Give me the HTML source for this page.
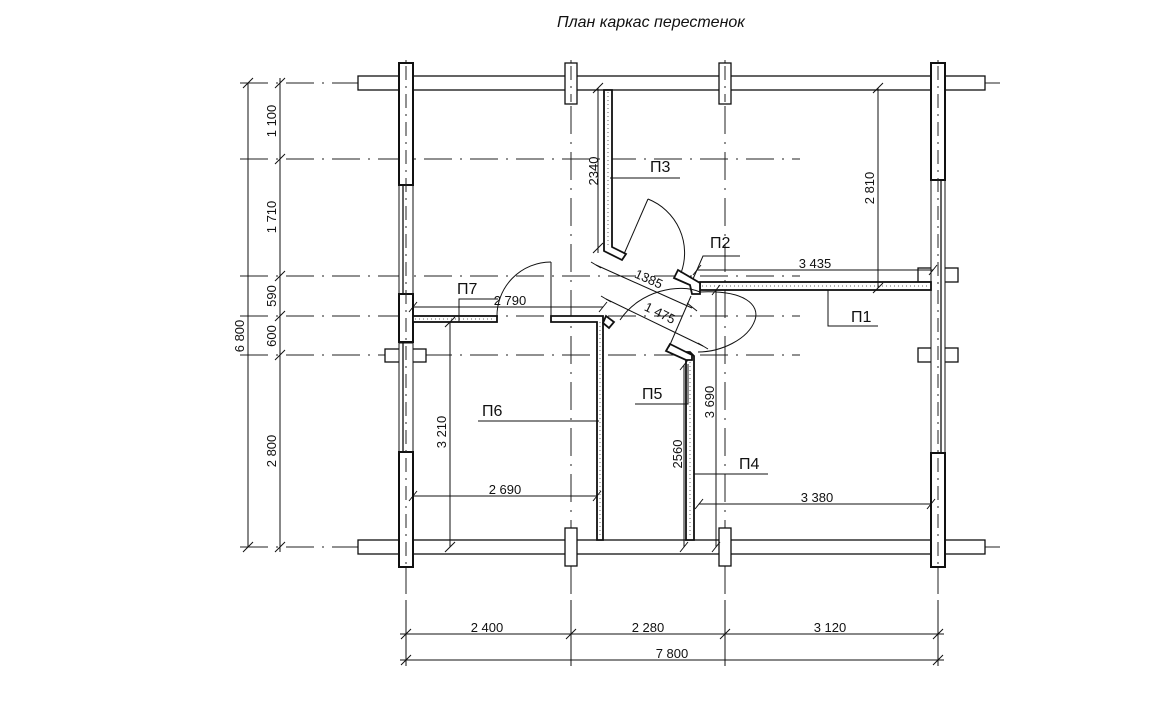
<!DOCTYPE html>
<html><head><meta charset="utf-8"><style>
html,body{margin:0;padding:0;background:#fff;}
svg{display:block}
text{font-family:"Liberation Sans",sans-serif;fill:#111}
</style></head><body>
<svg width="1156" height="711" viewBox="0 0 1156 711" xmlns="http://www.w3.org/2000/svg">
<text x="557" y="27" font-size="16" font-style="italic">План каркас перестенок</text>

<g stroke="#222" stroke-width="1" stroke-dasharray="28,8,2,8" fill="none">
<line x1="240" y1="83" x2="1000" y2="83"/>
<line x1="240" y1="159" x2="800" y2="159"/>
<line x1="240" y1="276" x2="800" y2="276"/>
<line x1="240" y1="316" x2="800" y2="316"/>
<line x1="240" y1="355" x2="800" y2="355"/>
<line x1="240" y1="547" x2="1000" y2="547"/>
<line x1="406" y1="60" x2="406" y2="660"/>
<line x1="571" y1="60" x2="571" y2="660"/>
<line x1="725" y1="60" x2="725" y2="660"/>
<line x1="938" y1="60" x2="938" y2="660"/>
</g>

<g fill="#fff" stroke="#111" stroke-width="1.3">
<rect x="358" y="76" width="627" height="14"/>
<rect x="358" y="540" width="627" height="14"/>
<rect x="565" y="63" width="12" height="41"/>
<rect x="719" y="63" width="12" height="41"/>
<rect x="565" y="528" width="12" height="38"/>
<rect x="719" y="528" width="12" height="38"/>
<rect x="385" y="349" width="41" height="13"/>
<rect x="918" y="268" width="40" height="14"/>
<rect x="918" y="348" width="40" height="14"/>
<rect x="399" y="185" width="14" height="111" stroke-width="1"/>
<line x1="403" y1="185" x2="403" y2="296"/>
<rect x="399" y="343" width="14" height="109" stroke-width="1"/>
<line x1="403" y1="343" x2="403" y2="452"/>
<rect x="399" y="63" width="14" height="122" stroke-width="2"/>
<rect x="399" y="294" width="14" height="48" stroke-width="2"/>
<rect x="399" y="452" width="14" height="115" stroke-width="2"/>
<rect x="931" y="180" width="14" height="273" stroke-width="1"/>
<line x1="941" y1="180" x2="941" y2="453"/>
<rect x="931" y="63" width="14" height="117" stroke-width="2"/>
<rect x="931" y="453" width="14" height="114" stroke-width="2"/>
</g>
<g stroke="#222" stroke-width="1" stroke-dasharray="14,6,2,6">
<line x1="406" y1="66" x2="406" y2="564"/>
<line x1="938" y1="66" x2="938" y2="564"/>
<line x1="571" y1="66" x2="571" y2="102"/>
<line x1="725" y1="66" x2="725" y2="102"/>
</g>

<g fill="#fff" stroke="#111" stroke-width="1.8">
<path d="M604 90 H612 V247 L626 254 L622 260 L604 251 Z"/>
<rect x="413" y="316" width="84" height="6"/>
<path d="M551 316 H603 V540 H597 V322 H551 Z"/>
<path d="M686 360 L681 352 L690 352 L694 356 V540 H686 Z"/>
<rect x="700" y="282" width="231" height="8"/>
<path d="M678 270 L700 283 V294 L692 294 L690 285 L674 278 Z"/>
<path d="M670 344 L692 355 V360 L686 360 L666 351 Z"/>
<path d="M606 316 L614 322 L609 328 L603 323 Z"/>
</g>
<g stroke="#666" stroke-width="1" stroke-dasharray="1,3">
<line x1="608" y1="92" x2="608" y2="248"/>
<line x1="415" y1="319" x2="495" y2="319"/>
<line x1="600" y1="322" x2="600" y2="538"/>
<line x1="690" y1="362" x2="690" y2="538"/>
<line x1="702" y1="286" x2="929" y2="286"/>
</g>

<g fill="none" stroke="#111" stroke-width="1">
<line x1="551" y1="316" x2="551" y2="262"/>
<path d="M551 262 A54 54 0 0 0 497 318"/>
<line x1="624" y1="254" x2="648" y2="199"/>
<path d="M648 199 A58 58 0 0 1 681 273"/>
<line x1="669" y1="347" x2="691" y2="296"/>
<path d="M620 320 C640 290 680 283 700 292"/>
<path d="M700 292 C745 290 760 305 755 320 C748 340 720 352 698 352"/>
</g>

<g stroke="#111" stroke-width="1" fill="none">
<line x1="248" y1="83" x2="248" y2="547"/>
<line x1="280" y1="78" x2="280" y2="552"/>
<line x1="400" y1="634" x2="944" y2="634"/>
<line x1="400" y1="660" x2="944" y2="660"/>
<line x1="406" y1="600" x2="406" y2="666"/>
<line x1="571" y1="600" x2="571" y2="666"/>
<line x1="725" y1="600" x2="725" y2="666"/>
<line x1="938" y1="600" x2="938" y2="666"/>
<line x1="878" y1="88" x2="878" y2="288"/>
<line x1="598" y1="88" x2="598" y2="253"/>
<line x1="413" y1="307" x2="603" y2="307"/>
<line x1="450" y1="322" x2="450" y2="547"/>
<line x1="413" y1="496" x2="597" y2="496"/>
<line x1="697" y1="270" x2="933" y2="270"/>
<line x1="716" y1="290" x2="716" y2="547"/>
<line x1="684" y1="365" x2="684" y2="547"/>
<line x1="699" y1="504" x2="931" y2="504"/>
<line x1="596" y1="265" x2="692" y2="308"/>
<line x1="606" y1="299" x2="703" y2="346"/>
<path d="M459 322 V299 H498"/>
<path d="M478 421 H599"/>
<path d="M610 178 H680"/>
<path d="M828 290 V326 H878"/>
<path d="M693 279 L703 256 H740"/>
<path d="M688 364 V404 H635"/>
<path d="M694 474 H768"/>
</g>
<g stroke="#111" stroke-width="1">
<path d="M243 88 L253 78 M243 552 L253 542 M275 88 L285 78 M275 164 L285 154 M275 281 L285 271 M275 321 L285 311 M275 360 L285 350 M275 552 L285 542"/>
<path d="M401 639 L411 629 M566 639 L576 629 M720 639 L730 629 M933 639 L943 629 M401 665 L411 655 M933 665 L943 655"/>
<path d="M873 93 L883 83 M873 293 L883 283 M593 93 L603 83 M593 253 L603 243"/>
<path d="M409 312 L417 302 M599 312 L607 302 M445 327 L455 317 M445 552 L455 542 M409 501 L417 491 M593 501 L601 491"/>
<path d="M693 275 L701 265 M929 275 L937 265 M712 295 L720 285 M712 552 L720 542 M680 370 L688 360 M680 552 L688 542 M695 509 L703 499 M927 509 L935 499"/>
<path d="M591 262 L601 268 M687 303 L697 311 M601 296 L611 302 M698 343 L708 349"/>
</g>

<g font-size="13">
<text x="0" y="0" transform="translate(244,336) rotate(-90)" text-anchor="middle">6 800</text>
<text x="0" y="0" transform="translate(276,121) rotate(-90)" text-anchor="middle">1 100</text>
<text x="0" y="0" transform="translate(276,217) rotate(-90)" text-anchor="middle">1 710</text>
<text x="0" y="0" transform="translate(276,296) rotate(-90)" text-anchor="middle">590</text>
<text x="0" y="0" transform="translate(276,336) rotate(-90)" text-anchor="middle">600</text>
<text x="0" y="0" transform="translate(276,451) rotate(-90)" text-anchor="middle">2 800</text>
<text x="487" y="632" text-anchor="middle">2 400</text>
<text x="648" y="632" text-anchor="middle">2 280</text>
<text x="830" y="632" text-anchor="middle">3 120</text>
<text x="672" y="658" text-anchor="middle">7 800</text>
<text x="0" y="0" transform="translate(874,188) rotate(-90)" text-anchor="middle">2 810</text>
<text x="0" y="0" transform="translate(598,171) rotate(-90)" text-anchor="middle">2340</text>
<text x="510" y="305" text-anchor="middle">2 790</text>
<text x="0" y="0" transform="translate(446,432) rotate(-90)" text-anchor="middle">3 210</text>
<text x="505" y="494" text-anchor="middle">2 690</text>
<text x="815" y="268" text-anchor="middle">3 435</text>
<text x="0" y="0" transform="translate(714,402) rotate(-90)" text-anchor="middle">3 690</text>
<text x="0" y="0" transform="translate(682,454) rotate(-90)" text-anchor="middle">2560</text>
<text x="817" y="502" text-anchor="middle">3 380</text>
<text x="0" y="0" transform="translate(647,283) rotate(24)" text-anchor="middle">1385</text>
<text x="0" y="0" transform="translate(658,317) rotate(26)" text-anchor="middle">1 475</text>
</g>
<g font-size="16">
<text x="650" y="172">П3</text>
<text x="710" y="248">П2</text>
<text x="851" y="322">П1</text>
<text x="457" y="294">П7</text>
<text x="482" y="416">П6</text>
<text x="642" y="399">П5</text>
<text x="739" y="469">П4</text>
</g>
</svg>
</body></html>
